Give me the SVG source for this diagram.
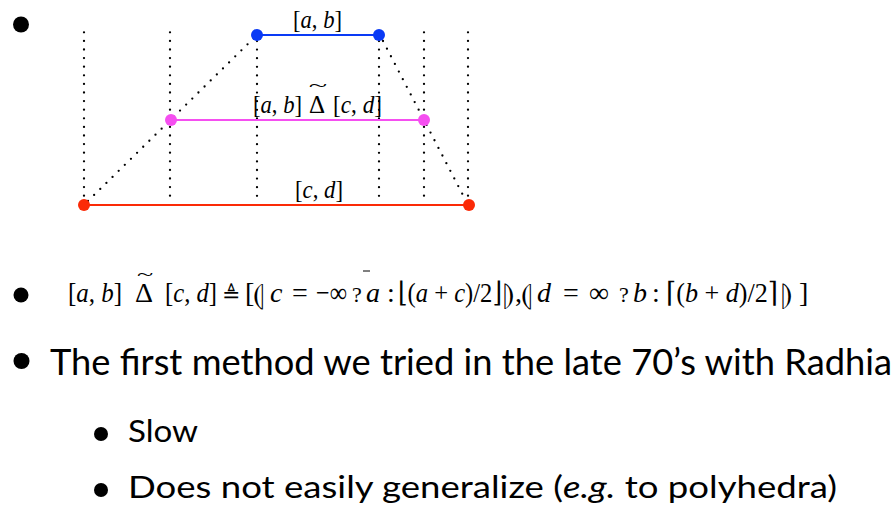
<svg xmlns="http://www.w3.org/2000/svg" width="896" height="518" viewBox="0 0 896 518">
<style>
.dot{stroke:#000;stroke-width:2.3;stroke-linecap:round;stroke-dasharray:0 8.6;fill:none}
.m{font-family:"Liberation Serif","DejaVu Serif",serif;fill:#000}
.i{font-style:italic}
.s{font-family:"DejaVu Serif",serif}
.body{font-family:Lato,"Liberation Sans",sans-serif;fill:#000}
.bul{fill:#000}
</style>
<rect width="896" height="518" fill="#fff"/>
<g id="connectors">
<line class="dot" x1="84" y1="32.3" x2="84" y2="201"/>
<line class="dot" x1="170" y1="32.3" x2="170" y2="201"/>
<line class="dot" x1="257" y1="41" x2="257" y2="201"/>
<line class="dot" x1="379" y1="41" x2="379" y2="201"/>
<line class="dot" x1="424" y1="32.3" x2="424" y2="201"/>
<line class="dot" x1="468" y1="32.3" x2="468" y2="201"/>
<line class="dot" x1="88" y1="201" x2="257" y2="35"/>
<line class="dot" x1="383" y1="41" x2="466" y2="201"/>
</g>
<g id="node-ab">
<line x1="257" y1="35" x2="379" y2="35" stroke="#0a3af5" stroke-width="2.2"/>
<circle cx="257" cy="35" r="6" fill="#0a3af5"/>
<circle cx="379" cy="35" r="6" fill="#0a3af5"/>
<text class="m" x="293" y="28" font-size="26" textLength="49" lengthAdjust="spacingAndGlyphs"><tspan>[</tspan><tspan class="i">a</tspan><tspan>, </tspan><tspan class="i">b</tspan><tspan>]</tspan></text>
</g>
<g id="node-widen">
<line x1="171" y1="120" x2="424" y2="120" stroke="#f54ff0" stroke-width="2.2"/>
<circle cx="171" cy="120" r="6" fill="#f54ff0"/>
<circle cx="424" cy="120" r="6" fill="#f54ff0"/>
<text class="m" x="253" y="113" font-size="26" textLength="49" lengthAdjust="spacingAndGlyphs"><tspan>[</tspan><tspan class="i">a</tspan><tspan>, </tspan><tspan class="i">b</tspan><tspan>]</tspan></text>
<text class="m" x="309" y="113" font-size="25">Δ</text>
<text class="m" x="0" y="0" font-size="20" text-anchor="middle" transform="translate(318,91) scale(1.7,0.8)">~</text>
<text class="m" x="333" y="113" font-size="26" textLength="49" lengthAdjust="spacingAndGlyphs"><tspan>[</tspan><tspan class="i">c</tspan><tspan>, </tspan><tspan class="i">d</tspan><tspan>]</tspan></text>
</g>
<g id="node-cd">
<line x1="84" y1="205" x2="469" y2="205" stroke="#fb2a07" stroke-width="2.2"/>
<circle cx="84" cy="205" r="6" fill="#fb2a07"/>
<circle cx="469" cy="205" r="6" fill="#fb2a07"/>
<text class="m" x="295" y="198" font-size="26" textLength="48" lengthAdjust="spacingAndGlyphs"><tspan>[</tspan><tspan class="i">c</tspan><tspan>, </tspan><tspan class="i">d</tspan><tspan>]</tspan></text>
</g>
<g id="bullets">
<circle class="bul" cx="21" cy="24.5" r="8"/>
<circle class="bul" cx="21" cy="295" r="7.5"/>
<circle class="bul" cx="21.5" cy="361" r="8"/>
<circle class="bul" cx="101" cy="434" r="7"/>
<circle class="bul" cx="101" cy="490" r="7"/>
</g>
<g id="formula" font-size="28">
<text class="m" x="68" y="302" textLength="54" lengthAdjust="spacingAndGlyphs"><tspan>[</tspan><tspan class="i">a</tspan><tspan>, </tspan><tspan class="i">b</tspan><tspan>]</tspan></text>
<text class="m" x="135" y="302">Δ</text>
<text class="m" x="0" y="0" font-size="20" text-anchor="middle" transform="translate(145,280) scale(1.5,0.8)">~</text>
<text class="m" x="165" y="302" textLength="52" lengthAdjust="spacingAndGlyphs"><tspan>[</tspan><tspan class="i">c</tspan><tspan>, </tspan><tspan class="i">d</tspan><tspan>]</tspan></text>
<text class="m s" x="222" y="302" font-size="22">≜</text>
<text class="m" x="245" y="302">[</text>
<text class="m s" x="253" y="304" font-size="30">⦇</text>
<text class="m i" x="270" y="302">c</text>
<text class="m" x="292" y="302">=</text>
<text class="m" x="316" y="302" textLength="31" lengthAdjust="spacingAndGlyphs">−∞</text>
<text class="m" x="352" y="302" font-size="22">?</text>
<text class="m i" x="366" y="302">a</text>
<line x1="363" y1="271" x2="370" y2="271" stroke="#000" stroke-width="1"/>
<text class="m" x="387" y="302">:</text>
<text class="m" x="398" y="302" textLength="104" lengthAdjust="spacingAndGlyphs"><tspan class="s">⌊</tspan><tspan>(</tspan><tspan class="i">a</tspan><tspan> + </tspan><tspan class="i">c</tspan><tspan>)/2</tspan><tspan class="s">⌋</tspan></text>
<text class="m s" x="503" y="304" font-size="30">⦈</text>
<text class="m" x="515" y="302">,</text>
<text class="m s" x="521" y="304" font-size="30">⦇</text>
<text class="m i" x="537" y="302">d</text>
<text class="m" x="563" y="302">=</text>
<text class="m" x="589" y="302">∞</text>
<text class="m" x="619" y="302" font-size="22">?</text>
<text class="m i" x="633" y="302">b</text>
<text class="m" x="652" y="302">:</text>
<text class="m" x="666" y="302" textLength="112" lengthAdjust="spacingAndGlyphs"><tspan class="s">⌈</tspan><tspan>(</tspan><tspan class="i">b</tspan><tspan> + </tspan><tspan class="i">d</tspan><tspan>)/2</tspan><tspan class="s">⌉</tspan></text>
<text class="m s" x="781" y="304" font-size="30">⦈</text>
<text class="m" x="799" y="302">]</text>
</g>
<g id="text">
<text class="body" x="50" y="375" font-size="36" textLength="842" lengthAdjust="spacingAndGlyphs">The first method we tried in the late 70’s with Radhia</text>
<text class="body" x="128" y="442" font-size="30" textLength="70" lengthAdjust="spacingAndGlyphs">Slow</text>
<text class="body" x="128" y="498" font-size="30" textLength="709" lengthAdjust="spacingAndGlyphs">Does not easily generalize (<tspan font-style="italic">e.g.</tspan> to polyhedra)</text>
</g>
</svg>
